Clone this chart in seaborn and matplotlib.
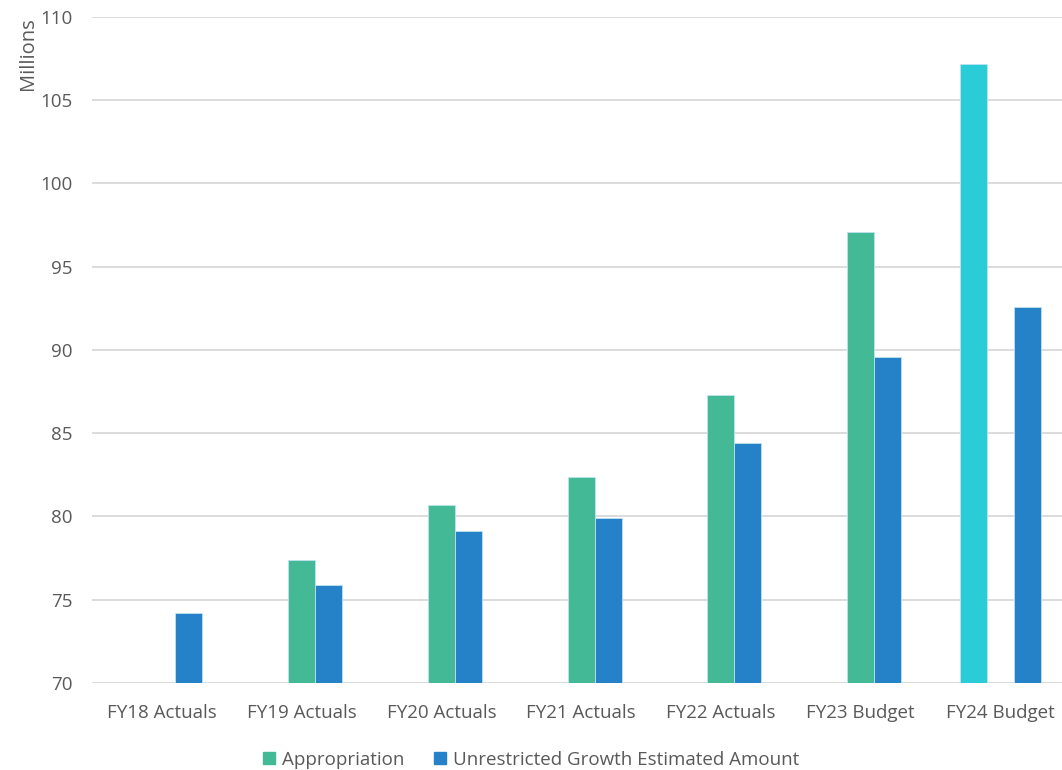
import numpy as np
import pandas as pd
import matplotlib.pyplot as plt
import seaborn as sns
from matplotlib.patches import Patch

years = ['FY18 Actuals', 'FY19 Actuals', 'FY20 Actuals', 'FY21 Actuals',
         'FY22 Actuals', 'FY23 Budget', 'FY24 Budget']
appropriation = [None, 77.4, 80.7, 82.4, 87.3, 97.1, None]
appropriation_fy24 = [None, None, None, None, None, None, 107.2]
unrestricted = [74.2, 75.9, 79.1, 79.9, 84.4, 89.6, 92.6]

series_order = ['Appropriation FY24', 'Appropriation',
                'Unrestricted Growth Estimated Amount']
colors = {'Appropriation FY24': '#29CCD7', 'Appropriation': '#43B995',
          'Unrestricted Growth Estimated Amount': '#2682C8'}

rows = []
for name, vals in zip(series_order, [appropriation_fy24, appropriation, unrestricted]):
    for yr, v in zip(years, vals):
        if v is not None:
            rows.append({'year': yr, 'series': name, 'value': v})
df = pd.DataFrame(rows)

sns.set_theme(style="white")
plt.rcParams['font.family'] = ['Open Sans', 'DejaVu Sans']
text_color = '#595959'

fig = plt.figure(figsize=(10.62, 7.70), dpi=100)
ax = fig.add_axes([92 / 1062, 1 - 683 / 770, 970 / 1062, 666 / 770])

sns.barplot(data=df, x='year', y='value', hue='series', order=years,
            hue_order=series_order, palette=colors, width=0.58,
            edgecolor='#bfe3f0', linewidth=0.6, saturation=1, ax=ax, legend=False)

ax.set_ylim(70, 110)
ax.set_xlim(-0.5, 6.44)
ax.set_yticks(np.arange(70, 111, 5))
ax.yaxis.grid(True, color='#d9d9d9', linewidth=1.3)
ax.set_axisbelow(True)
sns.despine(ax=ax, left=True, bottom=True, right=True, top=True)
ax.tick_params(axis='both', length=0, labelsize=13.5, colors=text_color)
ax.tick_params(axis='y', pad=14)
ax.tick_params(axis='x', pad=15)
ax.set_xlabel('')
ax.set_ylabel('Millions', fontsize=14.5, color=text_color, loc='top', labelpad=2)

handles = [Patch(color=colors['Appropriation'], label='Appropriation'),
           Patch(color=colors['Unrestricted Growth Estimated Amount'],
                 label='Unrestricted Growth Estimated Amount')]
leg = fig.legend(handles=handles, loc='lower center', ncol=2, frameon=False,
                 bbox_to_anchor=(0.5, -0.02), fontsize=13.5, handlelength=0.65,
                 handleheight=0.65, handletextpad=0.35, columnspacing=1.6)
for t in leg.get_texts():
    t.set_color(text_color)

fig.savefig('out.png', dpi=100)
